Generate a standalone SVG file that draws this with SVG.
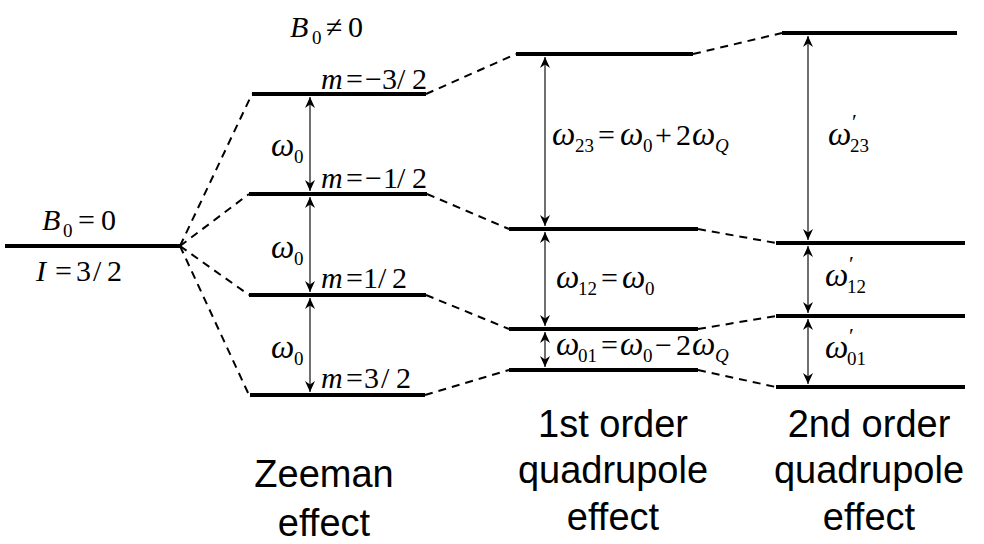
<svg xmlns="http://www.w3.org/2000/svg" width="984" height="544" viewBox="0 0 984 544">
<style>
.lvl{stroke:#000;stroke-width:4;fill:none}
.dash{stroke:#000;stroke-width:2;stroke-dasharray:8 6;fill:none}
.arr{stroke:#222;stroke-width:1.3;fill:none;marker-start:url(#ah);marker-end:url(#ah)}
.m{font-family:"Liberation Serif","Times New Roman",serif;font-size:30px;fill:#000}
.i{font-style:italic}
.w{font-size:33px;font-style:italic}
.s{font-size:19px}
.p{font-size:22px}
.lab{font-family:"Liberation Sans",Arial,sans-serif;font-size:38px;text-anchor:middle;fill:#000}
</style>
<defs>
<marker id="ah" viewBox="-12 -6 13 12" refX="0" refY="0" markerWidth="13" markerHeight="12" markerUnits="userSpaceOnUse" orient="auto-start-reverse">
<path d="M0,0 L-11,-5 L-7.5,0 L-11,5 Z" fill="#000"/>
</marker>
</defs>

<g id="level-B0">
<line class="lvl" x1="5" y1="246" x2="180" y2="246"/>
<text class="m"><tspan x="42" y="230" class="i">B</tspan><tspan x="63" y="237" class="s">0</tspan><tspan x="78" y="230">=</tspan><tspan x="101" y="230">0</tspan></text>
<text class="m"><tspan x="36" y="281" class="i">I</tspan><tspan x="55" y="281">=</tspan><tspan x="76" y="281">3</tspan><tspan x="93" y="281">/</tspan><tspan x="107" y="281">2</tspan></text>
</g>

<g id="label-B0ne">
<text class="m"><tspan x="290" y="37" class="i">B</tspan><tspan x="312" y="44" class="s">0</tspan><tspan x="326" y="37">≠</tspan><tspan x="348" y="37">0</tspan></text>
</g>

<g id="zeeman-m-3-2">
<line class="lvl" x1="252" y1="94" x2="426" y2="94"/>
<text class="m"><tspan x="321" y="89" class="i">m</tspan><tspan x="346" y="89">=</tspan><tspan x="365" y="89">−</tspan><tspan x="382" y="89">3</tspan><tspan x="397" y="89">/</tspan><tspan x="412" y="89">2</tspan></text>
</g>
<g id="zeeman-m-1-2">
<line class="lvl" x1="249" y1="194" x2="427" y2="194"/>
<text class="m"><tspan x="321" y="188" class="i">m</tspan><tspan x="346" y="188">=</tspan><tspan x="365" y="188">−</tspan><tspan x="383" y="188">1</tspan><tspan x="397" y="188">/</tspan><tspan x="412" y="188">2</tspan></text>
</g>
<g id="zeeman-m1-2">
<line class="lvl" x1="249" y1="295" x2="426" y2="295"/>
<text class="m"><tspan x="321" y="288" class="i">m</tspan><tspan x="346" y="288">=</tspan><tspan x="363" y="288">1</tspan><tspan x="378" y="288">/</tspan><tspan x="392" y="288">2</tspan></text>
</g>
<g id="zeeman-m3-2">
<line class="lvl" x1="250" y1="395" x2="425" y2="395"/>
<text class="m"><tspan x="321" y="388" class="i">m</tspan><tspan x="346" y="388">=</tspan><tspan x="364" y="388">3</tspan><tspan x="381" y="388">/</tspan><tspan x="396" y="388">2</tspan></text>
</g>

<g id="quad1-3">
<line class="lvl" x1="516" y1="54" x2="693" y2="54"/>
</g>
<g id="quad1-2">
<line class="lvl" x1="509" y1="229" x2="698" y2="229"/>
</g>
<g id="quad1-1">
<line class="lvl" x1="509" y1="329" x2="698" y2="329"/>
</g>
<g id="quad1-0">
<line class="lvl" x1="509" y1="370" x2="698" y2="370"/>
</g>

<g id="quad2-3">
<line class="lvl" x1="782" y1="33" x2="957" y2="33"/>
</g>
<g id="quad2-2">
<line class="lvl" x1="776" y1="243" x2="965" y2="243"/>
</g>
<g id="quad2-1">
<line class="lvl" x1="776" y1="316" x2="965" y2="316"/>
</g>
<g id="quad2-0">
<line class="lvl" x1="776" y1="387" x2="965" y2="387"/>
</g>

<g id="connectors">
<line class="dash" x1="180" y1="246" x2="252" y2="94"/>
<line class="dash" x1="180" y1="246" x2="249" y2="194"/>
<line class="dash" x1="180" y1="246" x2="249" y2="295"/>
<line class="dash" x1="180" y1="246" x2="249" y2="395"/>
<line class="dash" x1="426" y1="94" x2="516" y2="54"/>
<line class="dash" x1="427" y1="194" x2="509" y2="229"/>
<line class="dash" x1="426" y1="295" x2="509" y2="329"/>
<line class="dash" x1="425" y1="395" x2="509" y2="370"/>
<line class="dash" x1="693" y1="54" x2="782" y2="33"/>
<line class="dash" x1="698" y1="229" x2="776" y2="243"/>
<line class="dash" x1="698" y1="329" x2="776" y2="316"/>
<line class="dash" x1="698" y1="370" x2="776" y2="387"/>
<line class="arr" x1="310" y1="97" x2="310" y2="191"/>
<line class="arr" x1="310" y1="197" x2="310" y2="292"/>
<line class="arr" x1="310" y1="298" x2="310" y2="392"/>
<line class="arr" x1="545" y1="57" x2="545" y2="226"/>
<line class="arr" x1="545" y1="232" x2="545" y2="326"/>
<line class="arr" x1="545" y1="332" x2="545" y2="367"/>
<line class="arr" x1="808" y1="36" x2="808" y2="240"/>
<line class="arr" x1="808" y1="246" x2="808" y2="313"/>
<line class="arr" x1="808" y1="319" x2="808" y2="384"/>
</g>

<g id="freq-labels">
<text class="m"><tspan x="271" y="156" class="w">ω</tspan><tspan x="294" y="163" class="s">0</tspan></text>
<text class="m"><tspan x="271" y="258" class="w">ω</tspan><tspan x="294" y="265" class="s">0</tspan></text>
<text class="m"><tspan x="271" y="358" class="w">ω</tspan><tspan x="294" y="365" class="s">0</tspan></text>

<text class="m"><tspan x="552" y="145" class="w">ω</tspan><tspan x="575" y="152" class="s">23</tspan><tspan x="598" y="145">=</tspan><tspan x="620" y="145" class="w">ω</tspan><tspan x="643" y="152" class="s">0</tspan><tspan x="655" y="145">+</tspan><tspan x="676" y="145">2</tspan><tspan x="692" y="145" class="w">ω</tspan><tspan x="715" y="152" class="s i">Q</tspan></text>
<text class="m"><tspan x="556" y="288" class="w">ω</tspan><tspan x="578" y="295" class="s">12</tspan><tspan x="601" y="288">=</tspan><tspan x="622" y="288" class="w">ω</tspan><tspan x="645" y="295" class="s">0</tspan></text>
<text class="m"><tspan x="556" y="355" class="w">ω</tspan><tspan x="578" y="362" class="s">01</tspan><tspan x="601" y="355">=</tspan><tspan x="620" y="355" class="w">ω</tspan><tspan x="643" y="362" class="s">0</tspan><tspan x="655" y="355">−</tspan><tspan x="676" y="355">2</tspan><tspan x="692" y="355" class="w">ω</tspan><tspan x="715" y="362" class="s i">Q</tspan></text>

<text class="m"><tspan x="828" y="145" class="w">ω</tspan><tspan x="850" y="152" class="s">23</tspan></text>
<text class="m p" x="852" y="129">′</text>
<text class="m"><tspan x="825" y="286" class="w">ω</tspan><tspan x="847" y="293" class="s">12</tspan></text>
<text class="m p" x="849" y="271">′</text>
<text class="m"><tspan x="825" y="358" class="w">ω</tspan><tspan x="847" y="365" class="s">01</tspan></text>
<text class="m p" x="849" y="343">′</text>
</g>

<g id="captions">
<text class="lab" x="324" y="487">Zeeman</text>
<text class="lab" x="324" y="536">effect</text>
<text class="lab" x="613" y="437">1st order</text>
<text class="lab" x="613" y="483">quadrupole</text>
<text class="lab" x="613" y="530">effect</text>
<text class="lab" x="869" y="437">2nd order</text>
<text class="lab" x="869" y="483">quadrupole</text>
<text class="lab" x="869" y="530">effect</text>
</g>
</svg>
